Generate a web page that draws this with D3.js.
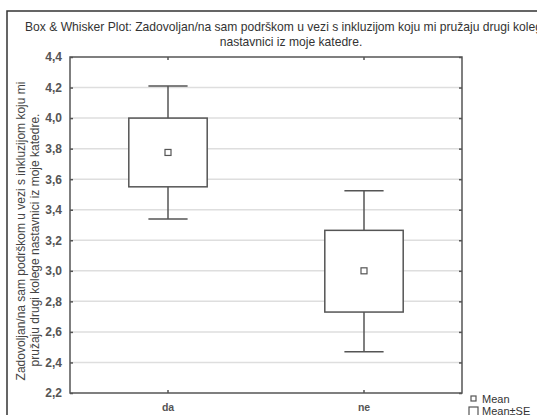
<!DOCTYPE html>
<html>
<head>
<meta charset="utf-8">
<script src="https://cdn.jsdelivr.net/npm/d3@7"></script>
<style>
  body { margin: 0; background: #fff; }
  text { font-family: "Liberation Sans", Arial, sans-serif; }
</style>
</head>
<body>
<div id="chart"></div>
<script>
// values
var categories = ["da", "ne"];
var means = [3.775, 3.0];
var seLow = [3.55, 2.73];
var seHigh = [4.0, 3.265];
var ciLow = [3.34, 2.47];
var ciHigh = [4.21, 3.525];
var yTicks = [2.2, 2.4, 2.6, 2.8, 3.0, 3.2, 3.4, 3.6, 3.8, 4.0, 4.2, 4.4];

var width = 537, height = 415;
var plotLeft = 70, plotRight = 462, plotTop = 57, plotBottom = 393;
var lineColor = "#555";

var svg = d3.select("#chart").append("svg")
    .attr("width", width)
    .attr("height", height);

// outer frame
svg.append("rect")
    .attr("x", 7).attr("y", 11)
    .attr("width", 560).attr("height", 440)
    .style("fill", "#fff")
    .style("stroke", "#333")
    .style("stroke-width", 1.5);

var x = d3.scaleBand()
    .domain(categories)
    .range([plotLeft, plotRight])
    .padding(0);

var y = d3.scaleLinear()
    .domain([2.2, 4.4])
    .range([plotBottom, plotTop]);

var fmt = function (d) { return d3.format(".1f")(d).replace(".", ","); };

// grid
svg.append("g")
    .selectAll("line")
    .data(yTicks.slice(1, -1))
    .enter().append("line")
    .attr("x1", plotLeft).attr("x2", plotRight)
    .attr("y1", function (d) { return y(d); })
    .attr("y2", function (d) { return y(d); })
    .style("stroke", "#dedede")
    .style("stroke-width", 1.5);

// axes
var left = svg.append("g")
    .attr("transform", "translate(" + plotLeft + ",0)")
    .call(d3.axisLeft(y).tickValues(yTicks).tickFormat(fmt).tickSizeInner(-3).tickSizeOuter(0).tickPadding(8));
left.selectAll("text")
    .style("font-size", "12px")
    .style("font-weight", "bold")
    .style("fill", "#555");

svg.append("g")
    .attr("transform", "translate(" + plotRight + ",0)")
    .call(d3.axisRight(y).tickValues(yTicks).tickFormat("").tickSizeInner(-3).tickSizeOuter(0));

var bottom = svg.append("g")
    .attr("transform", "translate(0," + plotBottom + ")")
    .call(d3.axisBottom(x).tickSizeInner(-3).tickSizeOuter(0).tickPadding(11));
bottom.selectAll("text")
    .style("font-size", "10.5px")
    .style("font-weight", "bold")
    .style("fill", "#555");

svg.append("g")
    .attr("transform", "translate(0," + plotTop + ")")
    .call(d3.axisTop(x).tickFormat("").tickSizeInner(-3).tickSizeOuter(0));

svg.selectAll(".domain").style("display", "none");
svg.selectAll(".tick line").style("stroke", lineColor).style("stroke-width", 1.5);

// plot border
svg.append("rect")
    .attr("x", plotLeft).attr("y", plotTop)
    .attr("width", plotRight - plotLeft).attr("height", plotBottom - plotTop)
    .style("fill", "none")
    .style("stroke", lineColor)
    .style("stroke-width", 1.5);

// boxes
var boxW = x.bandwidth() * 0.4, capW = x.bandwidth() * 0.2;
var g = svg.append("g")
    .selectAll("g")
    .data(categories)
    .enter().append("g");

g.append("line")
    .attr("x1", function (d) { return x(d) + x.bandwidth() / 2; })
    .attr("x2", function (d) { return x(d) + x.bandwidth() / 2; })
    .attr("y1", function (d, i) { return y(ciHigh[i]); })
    .attr("y2", function (d, i) { return y(ciLow[i]); })
    .style("stroke", lineColor).style("stroke-width", 1.5);

[ciHigh, ciLow].forEach(function (arr) {
  g.append("line")
      .attr("x1", function (d) { return x(d) + x.bandwidth() / 2 - capW / 2; })
      .attr("x2", function (d) { return x(d) + x.bandwidth() / 2 + capW / 2; })
      .attr("y1", function (d, i) { return y(arr[i]); })
      .attr("y2", function (d, i) { return y(arr[i]); })
      .style("stroke", lineColor).style("stroke-width", 1.5);
});

g.append("rect")
    .attr("x", function (d) { return x(d) + x.bandwidth() / 2 - boxW / 2; })
    .attr("y", function (d, i) { return y(seHigh[i]); })
    .attr("width", boxW)
    .attr("height", function (d, i) { return y(seLow[i]) - y(seHigh[i]); })
    .style("fill", "#fff")
    .style("stroke", lineColor).style("stroke-width", 1.5);

g.append("rect")
    .attr("x", function (d) { return x(d) + x.bandwidth() / 2 - 3; })
    .attr("y", function (d, i) { return y(means[i]) - 3; })
    .attr("width", 6).attr("height", 6)
    .style("fill", "#fff")
    .style("stroke", lineColor).style("stroke-width", 1.2);

// title
svg.append("text")
    .attr("x", 25).attr("y", 31)
    .style("font-size", "12.1px").style("fill", "#333")
    .text("Box & Whisker Plot: Zadovoljan/na sam podrškom u vezi s inkluzijom koju mi pružaju drugi kolege");
svg.append("text")
    .attr("x", 291).attr("y", 46)
    .attr("text-anchor", "middle")
    .style("font-size", "12.1px").style("fill", "#333")
    .text("nastavnici iz moje katedre.");

// y label
var yl = svg.append("text")
    .attr("transform", "translate(25,231) rotate(-90)")
    .attr("text-anchor", "middle")
    .style("font-size", "12px").style("fill", "#444");
yl.append("tspan").attr("x", 0).attr("y", 0)
    .text("Zadovoljan/na sam podrškom u vezi s inkluzijom koju mi");
yl.append("tspan").attr("x", -9).attr("y", 14)
    .text("pružaju drugi kolege nastavnici iz moje katedre.");

// legend
svg.append("rect")
    .attr("x", 471).attr("y", 396).attr("width", 5).attr("height", 5)
    .style("fill", "#fff").style("stroke", lineColor).style("stroke-width", 1.2);
svg.append("text")
    .attr("x", 482).attr("y", 403)
    .style("font-size", "11px").style("fill", "#333")
    .text("Mean");
svg.append("rect")
    .attr("x", 469).attr("y", 407).attr("width", 9).attr("height", 9)
    .style("fill", "#fff").style("stroke", lineColor).style("stroke-width", 1.2);
svg.append("text")
    .attr("x", 482).attr("y", 415)
    .style("font-size", "11px").style("fill", "#333")
    .text("Mean±SE");
</script>
</body>
</html>
